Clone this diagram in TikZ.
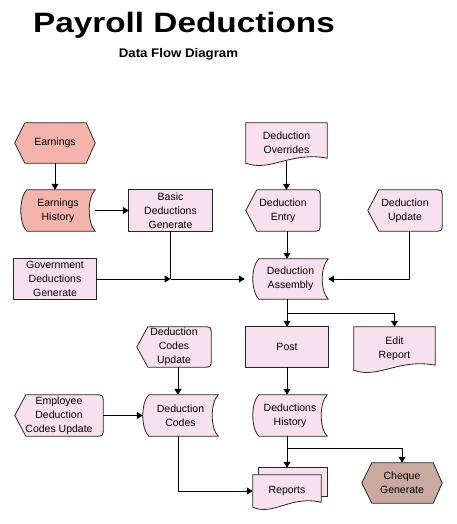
\documentclass[tikz,border=0pt]{standalone}
\usepackage{graphicx}
\usepackage{fontspec}
\setmainfont{Liberation Sans}
\usetikzlibrary{positioning,calc,backgrounds,arrows.meta}

\definecolor{dfdpink}{RGB}{248,224,238}
\definecolor{dfdsalmon}{RGB}{244,180,172}
\definecolor{dfdbrown}{RGB}{202,170,158}

\tikzset{
  dfd/.style={inner sep=0pt, align=center, font=\fontsize{10.5}{14}\selectfont, text=black},
  flow/.style={draw, line width=1pt, -{Triangle[length=6pt,width=7pt]}},
  link/.style={draw, line width=1pt},
  outline/.style={draw=black!85, line width=0.8pt, fill=#1},
}

% outlines drawn round named nodes
\newcommand{\hexshape}[2]{%
  \filldraw[outline=#2] (#1.west) -- ($(#1.north west)+(10,0)$) -- ($(#1.north east)+(-9,0)$)
    -- (#1.east) -- ($(#1.south east)+(-9,0)$) -- ($(#1.south west)+(10,0)$) -- cycle;}
\newcommand{\storedshape}[2]{%
  \filldraw[outline=#2] ($(#1.north west)+(6,0)$) -- (#1.north east)
    .. controls ($(#1.north east)+(-8,8)$) and ($(#1.south east)+(-8,-8)$) .. (#1.south east)
    -- ($(#1.south west)+(6,0)$)
    .. controls ($(#1.south west)+(-2,-8)$) and ($(#1.north west)+(-2,8)$) .. ($(#1.north west)+(6,0)$) -- cycle;}
\newcommand{\dispshape}[1]{%
  \filldraw[outline=dfdpink] (#1.west) -- ($(#1.north west)+(11,0)$)
    -- ($(#1.north east)+(-8,0)$) .. controls (#1.north east) .. ($(#1.north east)+(0,8)$)
    -- ($(#1.south east)+(0,-8)$) .. controls (#1.south east) .. ($(#1.south east)+(-8,0)$)
    -- ($(#1.south west)+(11,0)$) -- cycle;}
\newcommand{\docshape}[1]{%
  \filldraw[outline=dfdpink] (#1.south west) -- (#1.north west) -- (#1.north east) -- ($(#1.south east)+(0,-5)$)
    .. controls ($(#1.south west)!0.55!(#1.south east)+(0,-12)$) and ($(#1.south west)!0.3!(#1.south east)+(0,9)$) .. (#1.south west) -- cycle;}
\newcommand{\backdoc}[1]{%
  \filldraw[outline=dfdpink] ($(#1.north west)+(6,-7)$) rectangle ($(#1.south east)+(6,-11)$);}

\begin{document}
\begin{tikzpicture}[x=1pt,y=-1pt]
  \useasboundingbox (0,0) rectangle (456,524);

  \node[anchor=base] (title) at (184,33) {\scalebox{1.19}[1]{\fontsize{28}{30}\selectfont\bfseries Payroll Deductions}};
  \node[anchor=base] (subtitle) at (178.5,58) {\scalebox{1.06}[1]{\fontsize{12.5}{14}\selectfont\bfseries Data Flow Diagram}};

  % left column
  \node[dfd, minimum width=80pt, minimum height=40pt] (earn) at (55,143) {Earnings};
  \node[dfd, minimum width=74pt, minimum height=41pt] (earnhist) at (58,210.5) {Earnings\\History};
  \node[dfd, minimum width=83pt, minimum height=41pt] (basic) at (170.5,210.5) {Basic\\Deductions\\Generate};
  \node[dfd, minimum width=82pt, minimum height=40pt] (gov) at (55,279) {Government\\Deductions\\Generate};
  \node[dfd, minimum width=74pt, minimum height=40pt] (codesupd) at (174,347) {Deduction\\Codes\\Update};
  \node[dfd, minimum width=88pt, minimum height=41pt] (empupd) at (59,415.5) {Employee\\Deduction\\Codes Update};
  \node[dfd, minimum width=75pt, minimum height=41pt] (codes) at (180.5,415.5) {Deduction\\Codes};

  % right column
  \node[dfd, minimum width=81pt, minimum height=40pt] (overrides) at (286.5,143) {Deduction\\Overrides};
  \node[dfd, minimum width=74pt, minimum height=41pt] (entry) at (283,210.5) {Deduction\\Entry};
  \node[dfd, minimum width=74pt, minimum height=41pt] (dupdate) at (405,210.5) {Deduction\\Update};
  \node[dfd, minimum width=75pt, minimum height=40pt] (assembly) at (290.5,279) {Deduction\\Assembly};
  \node[dfd, minimum width=82pt, minimum height=40pt] (post) at (287,347) {Post};
  \node[dfd, minimum width=81pt, minimum height=43pt] (edit) at (394.5,348.5) {Edit\\Report};
  \node[dfd, minimum width=74pt, minimum height=41pt] (history) at (290,415.5) {Deductions\\History};
  \node[dfd, minimum width=68pt, minimum height=32pt] (reports) at (287,491) {Reports};
  \node[dfd, minimum width=80pt, minimum height=40pt] (cheque) at (402,483) {Cheque\\Generate};

  \begin{scope}[on background layer]
    \hexshape{earn}{dfdsalmon}
    \hexshape{cheque}{dfdbrown}
    \storedshape{earnhist}{dfdsalmon}
    \foreach \n in {assembly,codes,history} {\storedshape{\n}{dfdpink}}
    \foreach \n in {entry,dupdate,codesupd,empupd} {\dispshape{\n}}
    \foreach \n in {basic,gov,post} {\filldraw[outline=dfdpink] (\n.north west) rectangle (\n.south east);}
    \docshape{overrides}
    \docshape{edit}
    \backdoc{reports}
    \docshape{reports}
  \end{scope}

  \coordinate (j1) at (basic.south |- gov.east);
  \coordinate (j2) at ($(assembly.south -| post.north)!0.5!(post.north)$);
  \coordinate (j3) at ($(history.south -| reports.north)!0.4!([yshift=7pt]reports.north)$);

  \draw[flow] (earn.south) -- (earn.south |- earnhist.north);
  \draw[flow] (earnhist.east) -- (basic.west);
  \draw[link] (basic.south) -- (j1);
  \draw[flow] (gov.east) -- (j1);
  \draw[flow, shorten >=8pt] (j1) -- (assembly.west);
  \draw[flow] ([yshift=2pt]overrides.south) -- (overrides.south |- entry.north);
  \draw[flow] ([xshift=4pt]entry.south) -- ([xshift=4pt]entry.south |- assembly.north);
  \draw[flow] ([xshift=4pt]dupdate.south) |- (assembly.east);
  \draw[flow] (assembly.south -| post.north) -- (post.north);
  \draw[flow] (j2) -| (edit.north);
  \draw[flow] (post.south) -- (post.south |- history.north);
  \draw[flow] (history.south -| reports.north) -- ([yshift=7pt]reports.north);
  \draw[flow] (j3) -| (cheque.north);
  \draw[flow] ([xshift=4pt]codesupd.south) -- ([xshift=4pt]codesupd.south |- codes.north);
  \draw[flow] (empupd.east) -- (codes.west);
  \draw[flow] ([xshift=-2.5pt]codes.south) |- (reports.west);
\end{tikzpicture}
\end{document}
